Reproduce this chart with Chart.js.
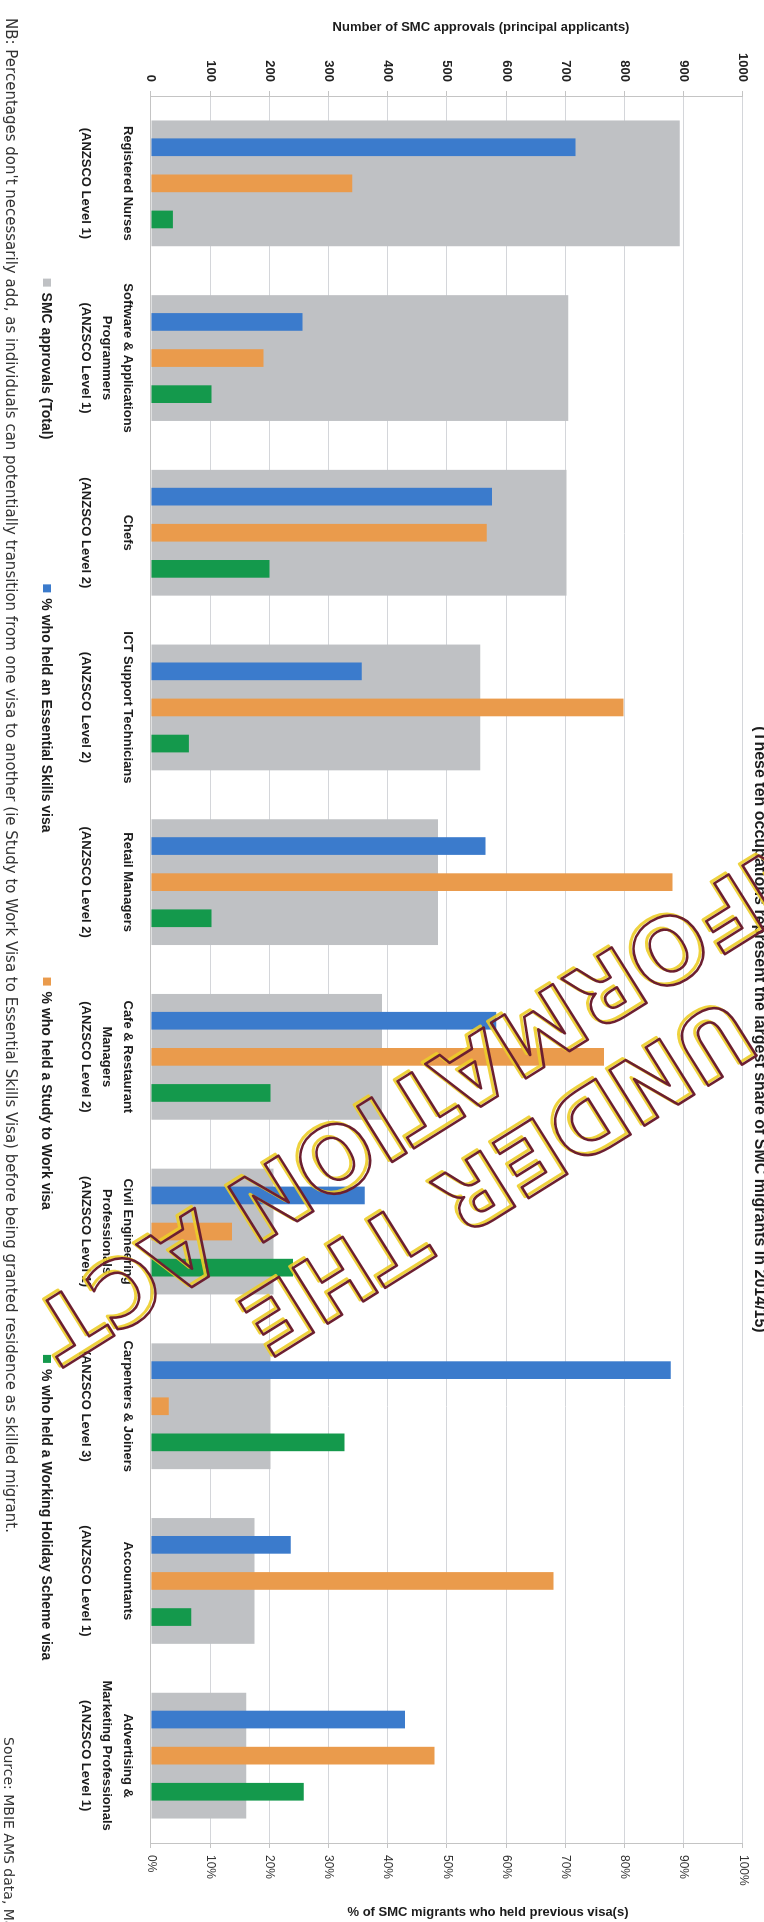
<!DOCTYPE html>
<html>
<head>
<meta charset="utf-8">
<title>SMC approvals by occupation</title>
<script src="https://cdn.jsdelivr.net/npm/chart.js@4.4.1/dist/chart.umd.min.js"></script>
<style>
  html, body { margin: 0; padding: 0; background: #fff; }
  body { width: 764px; height: 1922px; overflow: hidden; position: relative; }
  /* the scanned page is turned a quarter: draw the chart upright, then rotate it */
  #wrap { position: absolute; left: 0; top: 0; width: 1922px; height: 764px;
          transform-origin: 0 0; transform: translate(764px, 0) rotate(90deg); }
  canvas { display: block; }
</style>
</head>
<body>
<div id="wrap"><canvas id="chart" width="1922" height="764"></canvas></div>
<script>
// --- data ---
const occupations = [
    ['Registered Nurses', '', '(ANZSCO Level 1)'],
    ['Software & Applications', 'Programmers', '(ANZSCO Level 1)'],
    ['Chefs', '', '(ANZSCO Level 2)'],
    ['ICT Support Technicians', '', '(ANZSCO Level 2)'],
    ['Retail Managers', '', '(ANZSCO Level 2)'],
    ['Cafe & Restaurant', 'Managers', '(ANZSCO Level 2)'],
    ['Civil Engineering', 'Professionals', '(ANZSCO Level 1)'],
    ['Carpenters & Joiners', '', '(ANZSCO Level 3)'],
    ['Accountants', '', '(ANZSCO Level 1)'],
    ['Advertising &', 'Marketing Professionals', '(ANZSCO Level 1)']
];
const smcApprovals       = [893, 705, 702, 556, 485, 390, 207, 202, 175, 161];
const essentialSkillsPct = [71.7, 25.6, 57.6, 35.6, 56.5, 58.3, 36.1, 87.8, 23.6, 42.9];
const studyToWorkPct     = [34.0, 19.0, 56.7, 79.8, 88.1, 76.5, 13.7, 3.0, 68.0, 47.9];
const workingHolidayPct  = [3.7, 10.2, 20.0, 6.4, 10.2, 20.2, 24.0, 32.7, 6.8, 25.8];

const countTicks = [0, 100, 200, 300, 400, 500, 600, 700, 800, 900, 1000];
const pctTicks   = [0, 10, 20, 30, 40, 50, 60, 70, 80, 90, 100];

const seriesNames = [
    'SMC approvals (Total)',
    '% who held an Essential Skills visa',
    '% who held a Study to Work visa',
    '% who held a Working Holiday Scheme visa'
];

const FONT = '"Liberation Sans", Arial, sans-serif';
const NOTE_FONT = '"DejaVu Sans", Verdana, sans-serif';

// small helper: text turned -90deg so it reads left-to-right on the turned page
function upText(ctx, text, x, y) {
    ctx.save();
    ctx.translate(x, y);
    ctx.rotate(-Math.PI / 2);
    ctx.fillText(text, 0, 0);
    ctx.restore();
}

// outlined stamp line, placed so that the centre of `letter` sits on (x, y)
function stampLine(ctx, text, prefix, letter, x, y, angle) {
    ctx.save();
    ctx.translate(x, y);
    ctx.rotate(angle);
    const off = ctx.measureText(prefix).width + ctx.measureText(letter).width / 2;
    ctx.lineJoin = 'round';
    ctx.strokeStyle = 'rgba(236, 205, 40, 0.9)';
    ctx.lineWidth = 3;
    ctx.strokeText(text, -off + 2, 3);
    ctx.strokeStyle = '#6c1f30';
    ctx.lineWidth = 2.6;
    ctx.strokeText(text, -off, 0);
    ctx.restore();
}

const extras = {
    id: 'extras',
    afterDraw(chart) {
        const ctx = chart.ctx;
        const area = chart.chartArea;
        ctx.save();
        ctx.fillStyle = '#1c1c1c';
        ctx.textBaseline = 'middle';

        // axis titles
        ctx.textAlign = 'center';
        ctx.font = 'bold 13px ' + FONT;
        upText(ctx, 'Number of SMC approvals (principal applicants)', 27, 283);
        upText(ctx, '% of SMC migrants who held previous visa(s)', 1912, 276);

        // title, half cut off by the page edge
        ctx.font = 'bold 16px ' + FONT;
        ctx.fillText('(These ten occupations represent the largest share of SMC migrants in 2014/15)', (area.left + area.right) / 2 + 60, 5);

        // legend
        ctx.font = 'bold 14px ' + FONT;
        ctx.textAlign = 'left';
        const box = 8, boxGap = 6, itemGap = 145;
        const ds = chart.data.datasets;
        const widths = ds.map(d => box + boxGap + ctx.measureText(d.label).width);
        const total = widths.reduce((a, b) => a + b, 0) + itemGap * (widths.length - 1);
        let lx = (area.left + area.right) / 2 - total / 2;
        const ly = 717;
        ds.forEach((d, i) => {
            ctx.fillStyle = d.backgroundColor;
            ctx.fillRect(lx, ly - box / 2, box, box);
            ctx.fillStyle = '#1c1c1c';
            ctx.fillText(d.label, lx + box + boxGap, ly + 1);
            lx += widths[i] + itemGap;
        });

        // footnote + source
        ctx.fillStyle = '#333';
        ctx.font = '15px ' + NOTE_FONT;
        ctx.fillText('NB: Percentages don\'t necessarily add, as individuals can potentially transition from one visa to another (ie Study to Work Visa to Essential Skills Visa) before being granted residence as skilled migrant.', 18, 754);
        ctx.font = '14px ' + NOTE_FONT;
        ctx.fillText('Source: MBIE AMS data, May 2015', 1737, 756);

        // "released under the OIA" stamp over the chart
        ctx.font = 'bold 90px "DejaVu Sans", sans-serif';
        const ang = 58 * Math.PI / 180;
        stampLine(ctx, 'RELEASED UNDER THE', 'RELEASED ', 'U', 1035, 54, ang);
        stampLine(ctx, 'OFFICIAL INFORMATION ACT', 'OFFICIAL IN', 'F', 906, 42, ang);

        ctx.restore();
    }
};

const gridGrey = '#d4d6da';
const axisGrey = '#c4c4c4';

new Chart(document.getElementById('chart'), {
    type: 'bar',
    data: {
        labels: occupations,
        datasets: [
            { label: seriesNames[0], data: smcApprovals, yAxisID: 'y', backgroundColor: '#bfc1c4',
              grouped: false, barPercentage: 0.72, categoryPercentage: 1, order: 1 },
            { label: seriesNames[1], data: essentialSkillsPct, yAxisID: 'y1', backgroundColor: '#3b7bcc',
              barPercentage: 0.49, categoryPercentage: 0.62, order: 0 },
            { label: seriesNames[2], data: studyToWorkPct, yAxisID: 'y1', backgroundColor: '#ea9b4c',
              barPercentage: 0.49, categoryPercentage: 0.62, order: 0 },
            { label: seriesNames[3], data: workingHolidayPct, yAxisID: 'y1', backgroundColor: '#14994c',
              barPercentage: 0.49, categoryPercentage: 0.62, order: 0 }
        ]
    },
    options: {
        responsive: false,
        devicePixelRatio: 1,
        animation: false,
        layout: { padding: { top: 21, left: 0, right: 0, bottom: 0 } },
        plugins: { legend: { display: false }, tooltip: { enabled: false } },
        scales: {
            x: {
                grid: { display: false, drawTicks: false },
                border: { display: true, color: axisGrey },
                ticks: {
                    autoSkip: false, maxRotation: 0, minRotation: 0, padding: 13,
                    color: '#1c1c1c',
                    font: { family: FONT, size: 13, weight: 'bold', lineHeight: 1.6 }
                },
                afterFit: s => { s.height = 151; }
            },
            y: {
                position: 'left', min: 0, max: 1000,
                afterBuildTicks: s => { s.ticks = countTicks.map(v => ({ value: v })); },
                grid: { color: gridGrey, tickColor: axisGrey, tickLength: 5 },
                border: { display: true, color: axisGrey },
                ticks: { padding: 9, color: '#222', font: { family: FONT, size: 13, weight: 'bold' },
                         callback: v => String(v) },
                afterFit: s => { s.width = 96; }
            },
            y1: {
                position: 'right', min: 0, max: 100,
                afterBuildTicks: s => { s.ticks = pctTicks.map(v => ({ value: v })); },
                grid: { drawOnChartArea: false, tickColor: axisGrey, tickLength: 5 },
                border: { display: true, color: axisGrey },
                ticks: { padding: 7, color: '#333', font: { family: FONT, size: 12 }, callback: v => v + '%' },
                afterFit: s => { s.width = 79; }
            }
        }
    },
    plugins: [extras]
});
</script>
</body>
</html>
